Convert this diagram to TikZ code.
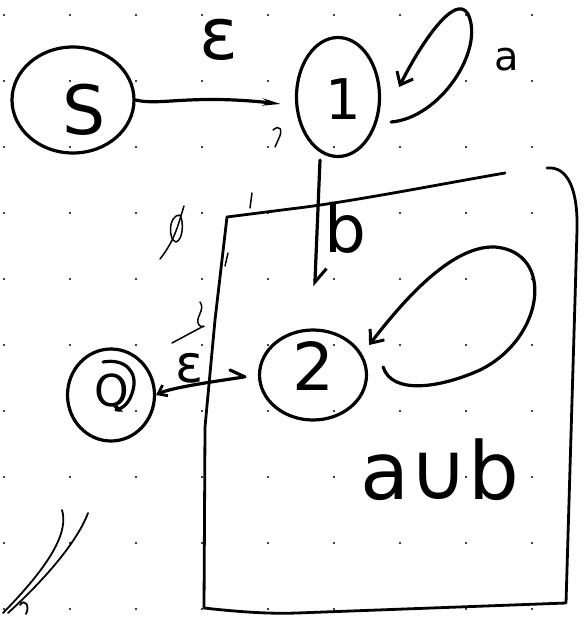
\documentclass[tikz,border=0pt]{standalone}
\usepackage{fontspec}
\setmainfont{DejaVu Sans}
\usetikzlibrary{arrows.meta,shapes.geometric}
\begin{document}
\begin{tikzpicture}[x=1pt,y=-1pt,
  ink/.style={line width=3.2pt, line cap=round, line join=round},
  thin ink/.style={line width=1.5pt, line cap=round, line join=round},
  state/.style={ellipse, draw, ink, inner sep=0pt},
  lab/.style={inner sep=0pt, font=\fontsize{#1pt}{#1pt}\selectfont},
  barb/.style={-{Straight Barb[length=11pt,width=18pt,line width=3pt]}},
  halfbarb/.style={-{Straight Barb[length=14pt,width=22pt,line width=3pt,left]}},
  thinhead/.style={-{Stealth[length=18pt,width=7pt]}}
]
\useasboundingbox (0,0) rectangle (584,617);
% grid dots
\foreach \i in {0,...,8} \foreach \j in {0,...,9}
  \fill (4+66*\i, 15+66*\j) circle (1.2);

% states
\node[state, minimum width=122pt, minimum height=106pt] (S) at (73,100) {};
\node[lab=68] (Slab) at (84,110) {S};
\node[state, minimum width=83pt, minimum height=119pt] (one) at (338,97) {};
\node[lab=56] (onelab) at (343,99) {1};
\node[state, minimum width=107pt, minimum height=90pt] (two) at (313,375) {};
\node[lab=66] (twolab) at (313,366) {2};
\node[state, minimum width=87pt, minimum height=92pt] (Q) at (111,395) {};
\node[lab=44] (Qlab) at (112,393) {Q};
\draw[ink] (103,362) .. controls (125,358) and (138,372) .. (133,390)
           .. controls (130,402) and (124,408) .. (116,410);

% S -> 1
\draw[ink, thinhead] (S.east) .. controls (160,106) and (190,94) .. ([xshift=-14pt,yshift=-7pt]one.west);
\node[lab=72] (eps1) at (219,40) {ε};

% 1 self loop
\draw[ink, barb] ([shift={(10,25)}]one.east)
   .. controls (440,118) and (485,50) .. (468,14)
   .. controls (455,-8) and (420,45) .. ([shift={(18,-10)}]one.east);
\node[lab=40] (alab) at (507,60) {a};

% 1 -> 2
\draw[ink, halfbarb, shorten >=42pt] ([xshift=-18pt,yshift=-2pt]one.south) -- (two.north);
\node[lab=66] (blab) at (345,228) {b};

% 2 self loop
\draw[ink, barb] ([shift={(15,-8)}]two.east)
   .. controls (392,395) and (440,388) .. (480,370)
   .. controls (545,338) and (555,252) .. (495,247)
   .. controls (450,245) and (400,305) .. ([shift={(1,-30)}]two.east);

% 2 -> Q
\draw[ink, -{Straight Barb[length=8pt,width=12pt,line width=2.8pt]}, shorten <=15pt]
   (two.west) .. controls (210,382) and (170,388) .. (Q.east);
\draw[ink] (230,370) -- (245,377);
\node[lab=52] (eps2) at (190,368) {ε};

% box
\draw[line width=2.8pt, line cap=round, line join=round]
   (505,173) .. controls (430,186) and (350,202) .. (290,209)
   -- (227,217) -- (215,320) -- (205,427) -- (204,608)
   .. controls (240,612) and (270,614) .. (297,613)
   -- (566,603) -- (575,300) -- (577,230)
   .. controls (578,190) and (568,166) .. (547,168);
\node[lab=80] (union) at (440,470) {a∪b};

% stray marks
\draw[thin ink] (273,130) .. controls (280,124) and (283,130) .. (279,138) -- (275,147);
\draw[thin ink] (184,206) .. controls (178,225) and (175,240) .. (160,259);
\draw[thin ink] (180,215) .. controls (168,215) and (168,240) .. (176,242) .. controls (183,240) and (184,222) .. (180,215);
\draw[thin ink] (200,302) .. controls (206,310) and (194,318) .. (199,325)
   .. controls (205,330) and (206,323) .. (200,328) -- (172,343);
\draw[thin ink] (252,193) -- (250,208);
\draw[thin ink] (228,253) -- (225,266);
\draw[line width=1.8pt, line cap=round] (62,510) .. controls (68,530) and (55,560) .. (3,613);
\draw[line width=1.8pt, line cap=round] (88,513) .. controls (80,535) and (55,570) .. (8,613);
\draw[line width=1.8pt, line cap=round] (20,605) .. controls (25,598) and (30,606) .. (26,614);
\end{tikzpicture}
\end{document}
